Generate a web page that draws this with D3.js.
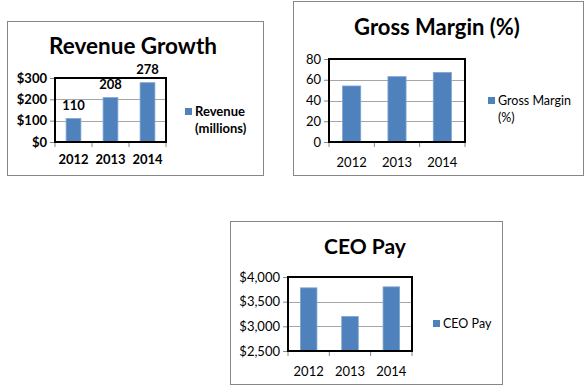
<!DOCTYPE html>
<html><head><meta charset="utf-8">
<script src="https://cdn.jsdelivr.net/npm/d3@7"></script>
<style>body{margin:0;background:#fff}svg{display:block}</style>
</head><body>
<svg id="c" width="588" height="389"></svg>
<script>
const years = ["2012", "2013", "2014"];
const revenueValues = [110, 208, 278];
const revenueTicks = [0, 100, 200, 300];
const marginValues = [54, 63, 67];
const marginTicks = [0, 20, 40, 60, 80];
const ceoValues = [3780, 3200, 3800];
const ceoTicks = [2500, 3000, 3500, 4000];

const FONT = "Lato, 'Open Sans', sans-serif";
const BAR = "#4F81BD";
const svg = d3.select("#c");

function panel(o) {
  const g = svg.append("g");
  g.append("rect").attr("x", o.box[0] + 0.5).attr("y", o.box[1] + 0.5)
    .attr("width", o.box[2] - o.box[0]).attr("height", o.box[3] - o.box[1])
    .attr("fill", "#fff").attr("stroke", "#868686").attr("stroke-width", 1);
  g.append("text").attr("x", o.titleX).attr("y", o.titleY).attr("text-anchor", "middle")
    .attr("font-family", FONT).attr("font-weight", "bold").attr("font-size", o.titleSize)
    .attr("fill", "#000").text(o.title);

  const [L, T, R, B] = o.plot;
  const x = d3.scaleBand().domain(years).range([L, R]).paddingInner(0.6).paddingOuter(0.3);
  const y = d3.scaleLinear().domain([o.ticks[0], o.ticks[o.ticks.length - 1]]).range([B, T]);
  const w = o.bold ? "bold" : "normal";

  g.append("g").selectAll("line").data(o.ticks).join("line")
    .attr("x1", L).attr("x2", R).attr("y1", d => Math.round(y(d)) + 0.5).attr("y2", d => Math.round(y(d)) + 0.5)
    .attr("stroke", "#a6a6a6").attr("stroke-width", 1);

  const ya = g.append("g").attr("transform", `translate(${L},0)`)
    .call(d3.axisLeft(y).tickValues(o.ticks).tickFormat(o.fmt).tickSize(5).tickPadding(3));
  ya.select(".domain").remove();
  ya.selectAll("line").attr("stroke", "#868686");
  ya.selectAll("text").attr("font-family", FONT).attr("font-size", o.tickSize).attr("font-weight", w).attr("fill", "#000");

  const step = x.step();
  const bounds = d3.range(years.length + 1).map(i => L + i * step);
  g.append("g").selectAll("line").data(bounds).join("line")
    .attr("x1", d => d).attr("x2", d => d).attr("y1", B).attr("y2", B + 5)
    .attr("stroke", "#868686");
  g.append("g").selectAll("text").data(years).join("text")
    .attr("x", d => x(d) + x.bandwidth() / 2).attr("y", o.catY).attr("text-anchor", "middle")
    .attr("font-family", FONT).attr("font-size", o.tickSize).attr("font-weight", w).attr("fill", "#000")
    .text(d => d);

  g.append("g").selectAll("rect").data(o.values).join("rect")
    .attr("x", (d, i) => x(years[i])).attr("width", x.bandwidth())
    .attr("y", d => y(d)).attr("height", d => B - y(d))
    .attr("fill", BAR).attr("stroke", "#7fa4d3").attr("stroke-width", 0.8);

  if (o.labels) {
    g.append("g").selectAll("text").data(o.values).join("text")
      .attr("x", (d, i) => x(years[i]) + x.bandwidth() / 2).attr("y", d => y(d) - 9)
      .attr("text-anchor", "middle").attr("font-family", FONT).attr("font-weight", "bold")
      .attr("font-size", o.tickSize).attr("fill", "#000").text(d => d);
  }

  g.append("rect").attr("x", L).attr("y", T).attr("width", R - L).attr("height", B - T)
    .attr("fill", "none").attr("stroke", "#000").attr("stroke-width", 2);

  g.append("rect").attr("x", o.leg[0]).attr("y", o.leg[1]).attr("width", 7).attr("height", 7).attr("fill", BAR);
  const lt = g.append("text").attr("font-family", FONT).attr("font-size", o.legSize).attr("font-weight", w).attr("fill", "#000");
  o.legText.forEach((t, i) => {
    lt.append("tspan").attr("x", o.leg[0] + 10).attr("y", o.leg[1] + 8 + i * 17).text(t);
  });
}

panel({
  box: [7, 21, 263, 175], title: "Revenue Growth", titleX: 133, titleY: 54, titleSize: 22.5,
  plot: [55, 78, 166, 142], ticks: revenueTicks, values: revenueValues, fmt: d => "$" + d,
  bold: true, tickSize: 13, catY: 164, labels: true,
  leg: [185, 108], legText: ["Revenue", "(millions)"], legSize: 13
});
panel({
  box: [293, 1, 583, 175], title: "Gross Margin (%)", titleX: 437, titleY: 35, titleSize: 22,
  plot: [329, 59, 465, 142], ticks: marginTicks, values: marginValues, fmt: d => d,
  bold: false, tickSize: 13, catY: 167, labels: false,
  leg: [488, 97], legText: ["Gross Margin", "(%)"], legSize: 12.5
});
panel({
  box: [230, 221, 502, 384], title: "CEO Pay", titleX: 365, titleY: 254, titleSize: 21,
  plot: [288, 277, 412, 351], ticks: ceoTicks, values: ceoValues, fmt: d3.format("$,"),
  bold: false, tickSize: 13, catY: 376, labels: false,
  leg: [433, 320], legText: ["CEO Pay"], legSize: 12.5
});
</script>
</body></html>
